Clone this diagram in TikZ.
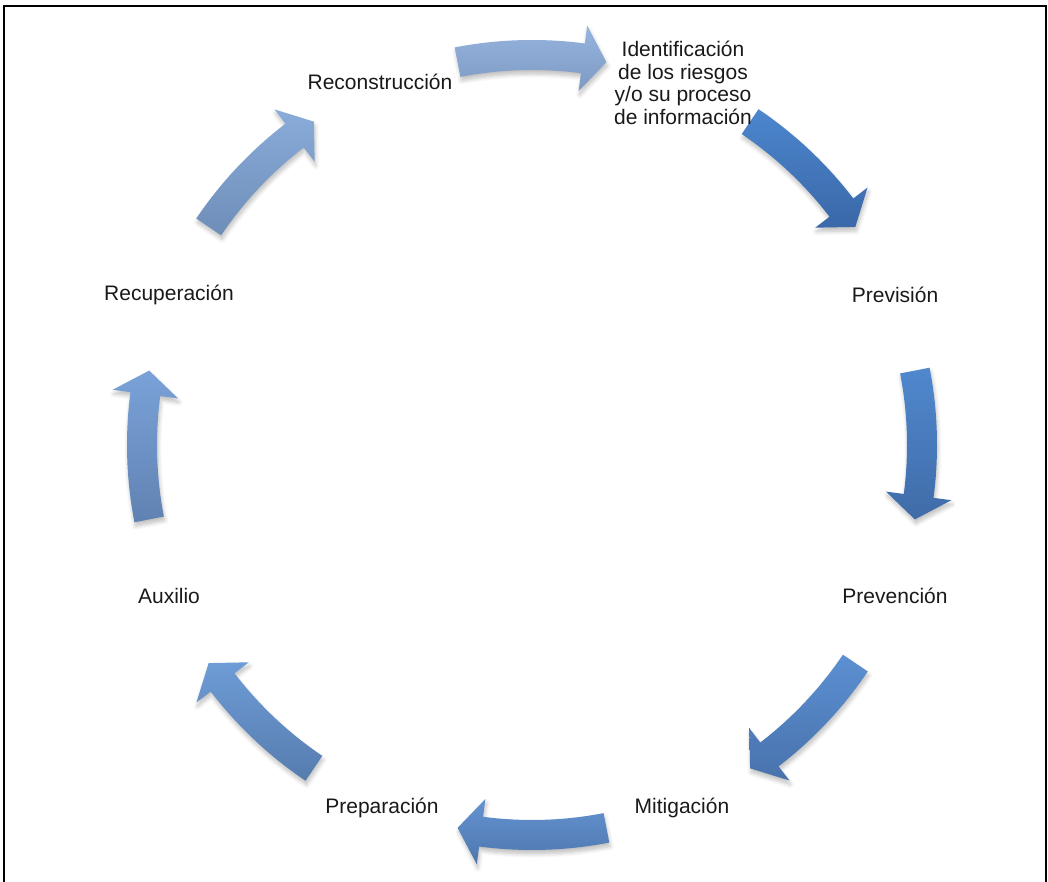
\documentclass[tikz,border=0pt]{standalone}
\usepackage{fontspec}
\setmainfont{Liberation Sans}
\usetikzlibrary{shadows.blur}
\definecolor{a1t}{RGB}{76,134,206}\definecolor{a1b}{RGB}{58,104,168}
\definecolor{a2t}{RGB}{80,136,206}\definecolor{a2b}{RGB}{64,108,168}
\definecolor{a3t}{RGB}{92,144,210}\definecolor{a3b}{RGB}{72,114,172}
\definecolor{a4t}{RGB}{100,148,210}\definecolor{a4b}{RGB}{78,118,172}
\definecolor{a5t}{RGB}{110,156,214}\definecolor{a5b}{RGB}{86,124,174}
\definecolor{a6t}{RGB}{122,162,216}\definecolor{a6b}{RGB}{96,130,178}
\definecolor{a7t}{RGB}{138,172,218}\definecolor{a7b}{RGB}{110,142,184}
\definecolor{a8t}{RGB}{150,180,222}\definecolor{a8b}{RGB}{124,154,194}
\newcommand\cycarrow[3]{%
  \path[arrowshape, top color=#2, bottom color=#3]
    (#1+11:405) arc[start angle=#1+11, end angle=#1-7.5, radius=405]
    -- (#1-7.5:423) -- (#1-11:390) -- (#1-7.5:357) -- (#1-7.5:375)
    arc[start angle=#1-7.5, end angle=#1+11, radius=375] -- cycle;}
\begin{document}
\begin{tikzpicture}[x=1pt,y=1pt,
  lbl/.style={font=\fontsize{21}{22.5}\selectfont, text=black!90, inner sep=0pt, align=center},
  arrowshape/.style={blur shadow={shadow xshift=1pt, shadow yshift=-4pt, shadow blur steps=6, shadow opacity=25, shadow blur radius=4pt}},
  frame/.style={line width=1.6pt, black}]
\useasboundingbox (0,0) rectangle (1048,882);
\coordinate (C) at (532,437);
\coordinate (f1) at (4,0);
\coordinate (f2) at (4,876);
\coordinate (f3) at (1046,876);
\coordinate (f4) at (1046,0);
\draw[frame] (f1) -- (f2) -- (f3) -- (f4);
\begin{scope}[shift={(C)}]
  \cycarrow{45}{a1t}{a1b}
  \cycarrow{0}{a2t}{a2b}
  \cycarrow{-45}{a3t}{a3b}
  \cycarrow{-90}{a4t}{a4b}
  \cycarrow{-135}{a5t}{a5b}
  \cycarrow{180}{a6t}{a6b}
  \cycarrow{135}{a7t}{a7b}
  \cycarrow{90}{a8t}{a8b}
\end{scope}
\node[lbl] (n1) at (683,799) {Identificación\\de los riesgos\\y/o su proceso\\de información};
\node[lbl] (n2) at (895,587) {Previsión};
\node[lbl] (n3) at (895,286) {Prevención};
\node[lbl] (n4) at (682,74) {Mitigación};
\node[lbl] (n5) at (382,74) {Preparación};
\node[lbl] (n6) at (169,286) {Auxilio};
\node[lbl] (n7) at (169,587) {Recuperación};
\node[lbl] (n8) at (380,800) {Reconstrucción};
\end{tikzpicture}
\end{document}
